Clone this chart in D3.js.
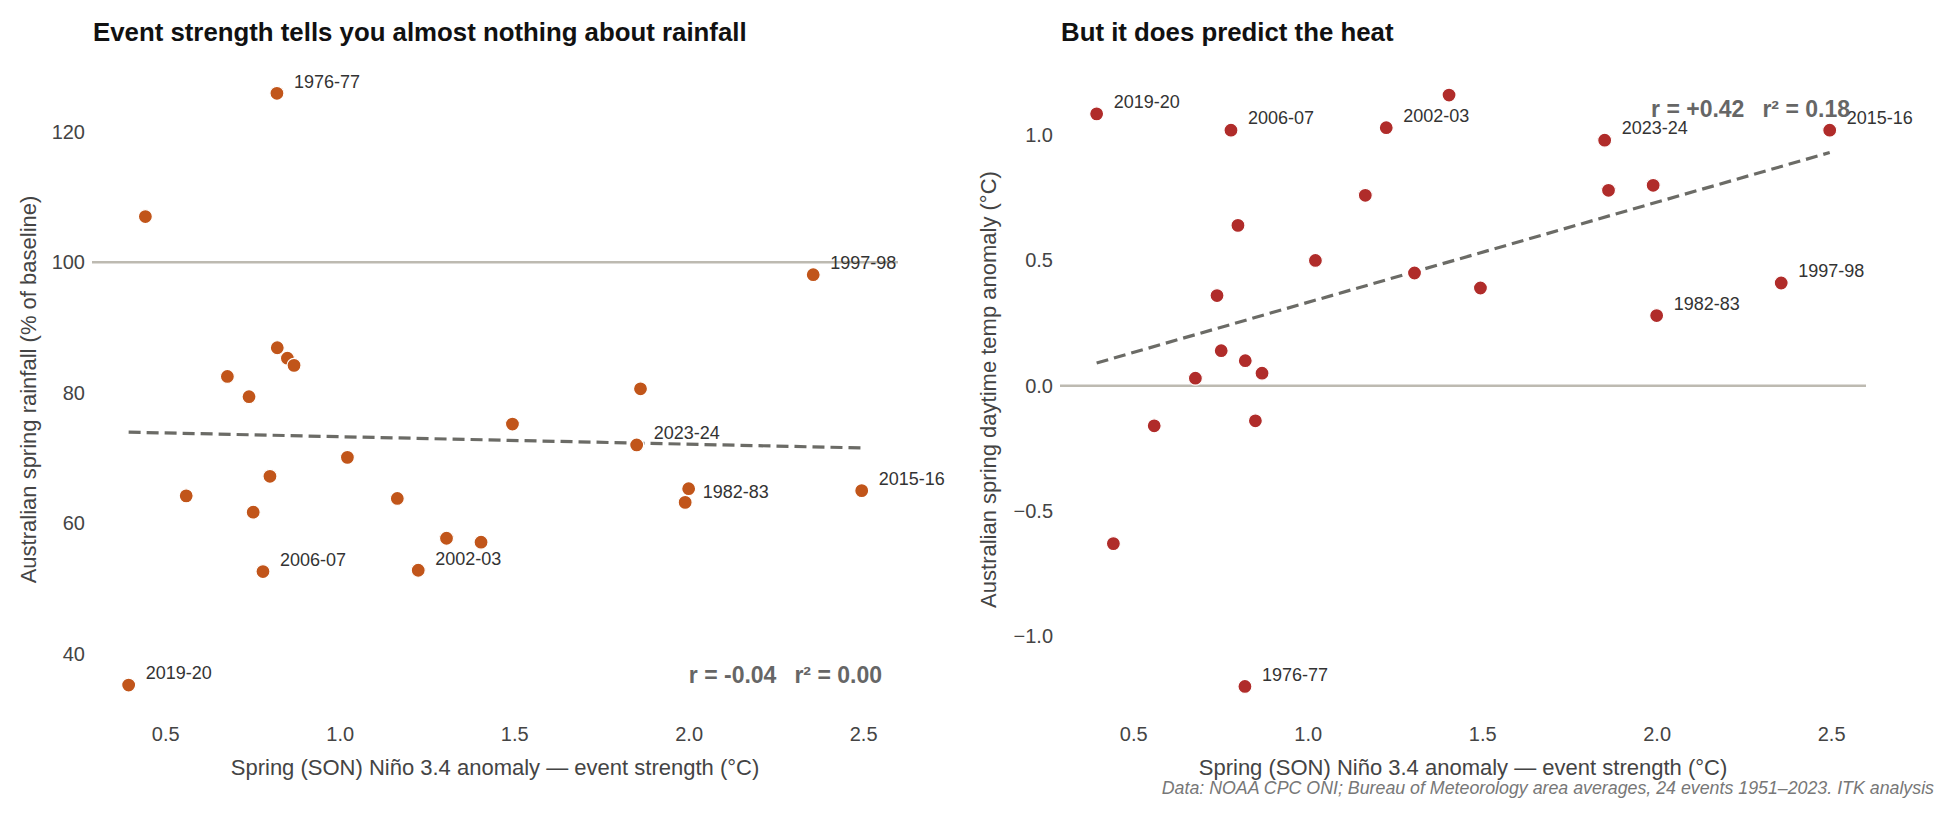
<!DOCTYPE html>
<html>
<head>
<meta charset="utf-8">
<script src="https://cdn.jsdelivr.net/npm/d3@7"></script>
<style>
  body { margin: 0; background: #fff; }
  svg { display: block; font-family: "Liberation Sans", Arial, sans-serif; }
</style>
</head>
<body>
<div id="chart"></div>
<script>
// ---- data (24 El Nino events) ----
var eventLabels = ["1976-77", "", "1997-98", "", "", "", "", "", "", "", "2023-24", "",
                   "", "", "", "", "1982-83", "", "2015-16", "", "", "2006-07", "2002-03", "2019-20"];
var ninoSON    = [0.82, 0.443, 2.357, 0.85, 0.821, 0.869, 0.678, 0.74, 1.862, 1.495, 1.851, 1.022,
                  0.80, 0.56, 1.165, 0.752, 2.00, 1.99, 2.496, 1.306, 1.405, 0.78, 1.225, 0.395];
var springRain = [125.9, 107.0, 98.1, 85.3, 86.9, 84.2, 82.5, 79.4, 80.6, 75.2, 72.0, 70.1,
                  67.2, 64.2, 63.8, 61.7, 65.3, 63.2, 65.0, 57.7, 57.1, 52.6, 52.8, 35.2];
var springTemp = [-1.20, -0.63, 0.41, -0.14, 0.10, 0.05, 0.03, 0.36, 0.78, 0.39, 0.98, 0.50,
                  0.64, -0.16, 0.76, 0.14, 0.28, 0.80, 1.02, 0.45, 1.16, 1.02, 1.03, 1.085];

var xTicks = [0.5, 1.0, 1.5, 2.0, 2.5];
var rainTicks = [40, 60, 80, 100, 120];
var tempTicks = [-1.0, -0.5, 0.0, 0.5, 1.0];
var rainStats = ["r = -0.04", "r\u00b2 = 0.00"];
var tempStats = ["r = +0.42", "r\u00b2 = 0.18"];
var titles = ["Event strength tells you almost nothing about rainfall", "But it does predict the heat"];
var yTitles = ["Australian spring rainfall (% of baseline)", "Australian spring daytime temp anomaly (\u00b0C)"];
var xTitle = "Spring (SON) Ni\u00f1o 3.4 anomaly \u2014 event strength (\u00b0C)";
var caption = "Data: NOAA CPC ONI; Bureau of Meteorology area averages, 24 events 1951\u20132023. ITK analysis";

var width = 1950;
var height = 813;
var plotW = 806;
var plotTop = 60;
var plotH = 659;

var svg = d3.select("#chart").append("svg")
    .attr("width", width)
    .attr("height", height);

svg.append("rect").attr("width", width).attr("height", height).attr("fill", "#fff");

var panels = [
    { left: 92, ys: springRain, domain: [30, 131], ticks: rainTicks, fmt: d3.format("d"),
      ref: 100, color: "#c1551a", stats: rainStats, statsAtTop: false,
      title: titles[0], yTitle: yTitles[0], yTitleX: -64, nudge: { "1982-83": [14, 3] } },
    { left: 1060, ys: springTemp, domain: [-1.33, 1.30], ticks: tempTicks, fmt: d3.format(".1f"),
      ref: 0, color: "#b02c2a", stats: tempStats, statsAtTop: true,
      title: titles[1], yTitle: yTitles[1], yTitleX: -72, nudge: {} }
];

panels.forEach(function(p) {
    var g = svg.append("g").attr("transform", "translate(" + p.left + "," + plotTop + ")");

    var x = d3.scaleLinear().domain([0.29, 2.6]).range([0, plotW]);
    var y = d3.scaleLinear().domain(p.domain).range([plotH, 0]);

    var pts = ninoSON.map(function(v, i) {
        return { x: v, y: p.ys[i], label: eventLabels[i] };
    });

    // title
    svg.append("text")
        .text(p.title)
        .attr("x", p.left + 1)
        .attr("y", 41)
        .style("font-size", "25.8px")
        .style("font-weight", "bold")
        .attr("fill", "#111");

    // y axis
    var yAxis = d3.axisLeft(y).tickValues(p.ticks).tickFormat(p.fmt).tickSize(0).tickPadding(7);
    var ya = g.append("g").call(yAxis);
    ya.select(".domain").remove();
    ya.selectAll("text").style("font-size", "20px").style("font-family", "Liberation Sans, Arial, sans-serif").attr("fill", "#444");

    // x axis
    var xAxis = d3.axisBottom(x).tickValues(xTicks).tickFormat(d3.format(".1f")).tickSize(0).tickPadding(8);
    var xa = g.append("g").attr("transform", "translate(0," + plotH + ")").call(xAxis);
    xa.select(".domain").remove();
    xa.selectAll("text").style("font-size", "20px").style("font-family", "Liberation Sans, Arial, sans-serif").attr("fill", "#444");

    // axis titles
    g.append("text")
        .text(xTitle)
        .attr("x", plotW / 2)
        .attr("y", 775 - plotTop)
        .attr("text-anchor", "middle")
        .style("font-size", "22px")
        .attr("fill", "#444");

    g.append("text")
        .text(p.yTitle)
        .attr("transform", "translate(" + p.yTitleX + "," + (plotH / 2) + ") rotate(-90)")
        .attr("text-anchor", "middle")
        .attr("dy", "0.35em")
        .style("font-size", "22px")
        .attr("fill", "#444");

    // reference line
    g.append("line")
        .attr("x1", 0)
        .attr("x2", plotW)
        .attr("y1", y(p.ref))
        .attr("y2", y(p.ref))
        .attr("stroke", "#bdbab1")
        .attr("stroke-width", 2.5);

    // least squares fit
    var mx = d3.mean(pts, d => d.x);
    var my = d3.mean(pts, d => d.y);
    var sxy = d3.sum(pts, d => (d.x - mx) * (d.y - my));
    var sxx = d3.sum(pts, d => (d.x - mx) * (d.x - mx));
    var slope = sxy / sxx;
    var ext = d3.extent(pts, d => d.x);
    var fit = ext.map(function(v) { return { x: v, y: my + slope * (v - mx) }; });

    var lineGenerator = d3.line()
        .x(d => x(d.x))
        .y(d => y(d.y));

    g.append("path")
        .datum(fit)
        .attr("d", lineGenerator)
        .attr("fill", "none")
        .attr("stroke", "#6b6b66")
        .attr("stroke-width", 3.2)
        .attr("stroke-dasharray", "12,6");

    // points
    g.selectAll(".dot")
        .data(pts)
        .enter()
        .append("circle")
        .attr("class", "dot")
        .attr("cx", d => x(d.x))
        .attr("cy", d => y(d.y))
        .attr("r", 7)
        .attr("fill", p.color)
        .attr("stroke", "#fff")
        .attr("stroke-width", 1.2);

    // labels
    g.selectAll(".lab")
        .data(pts.filter(d => d.label))
        .enter()
        .append("text")
        .attr("class", "lab")
        .text(d => d.label)
        .attr("x", d => x(d.x) + (p.nudge[d.label] ? p.nudge[d.label][0] : 17))
        .attr("y", d => y(d.y) + (p.nudge[d.label] ? p.nudge[d.label][1] : -12))
        .attr("dy", "0.35em")
        .style("font-size", "18px")
        .attr("fill", "#333");

    // stats
    var st = g.append("text")
        .attr("x", plotW - 16)
        .attr("y", p.statsAtTop ? 57 : plotH - 36)
        .attr("text-anchor", "end")
        .style("font-size", "23px")
        .style("font-weight", "bold")
        .attr("fill", "#666");
    st.append("tspan").text(p.stats[0]);
    st.append("tspan").attr("dx", 18).text(p.stats[1]);
});

svg.append("text")
    .text(caption)
    .attr("x", 1934)
    .attr("y", 794)
    .attr("text-anchor", "end")
    .style("font-size", "17.8px")
    .style("font-style", "italic")
    .attr("fill", "#777");
</script>
</body>
</html>
